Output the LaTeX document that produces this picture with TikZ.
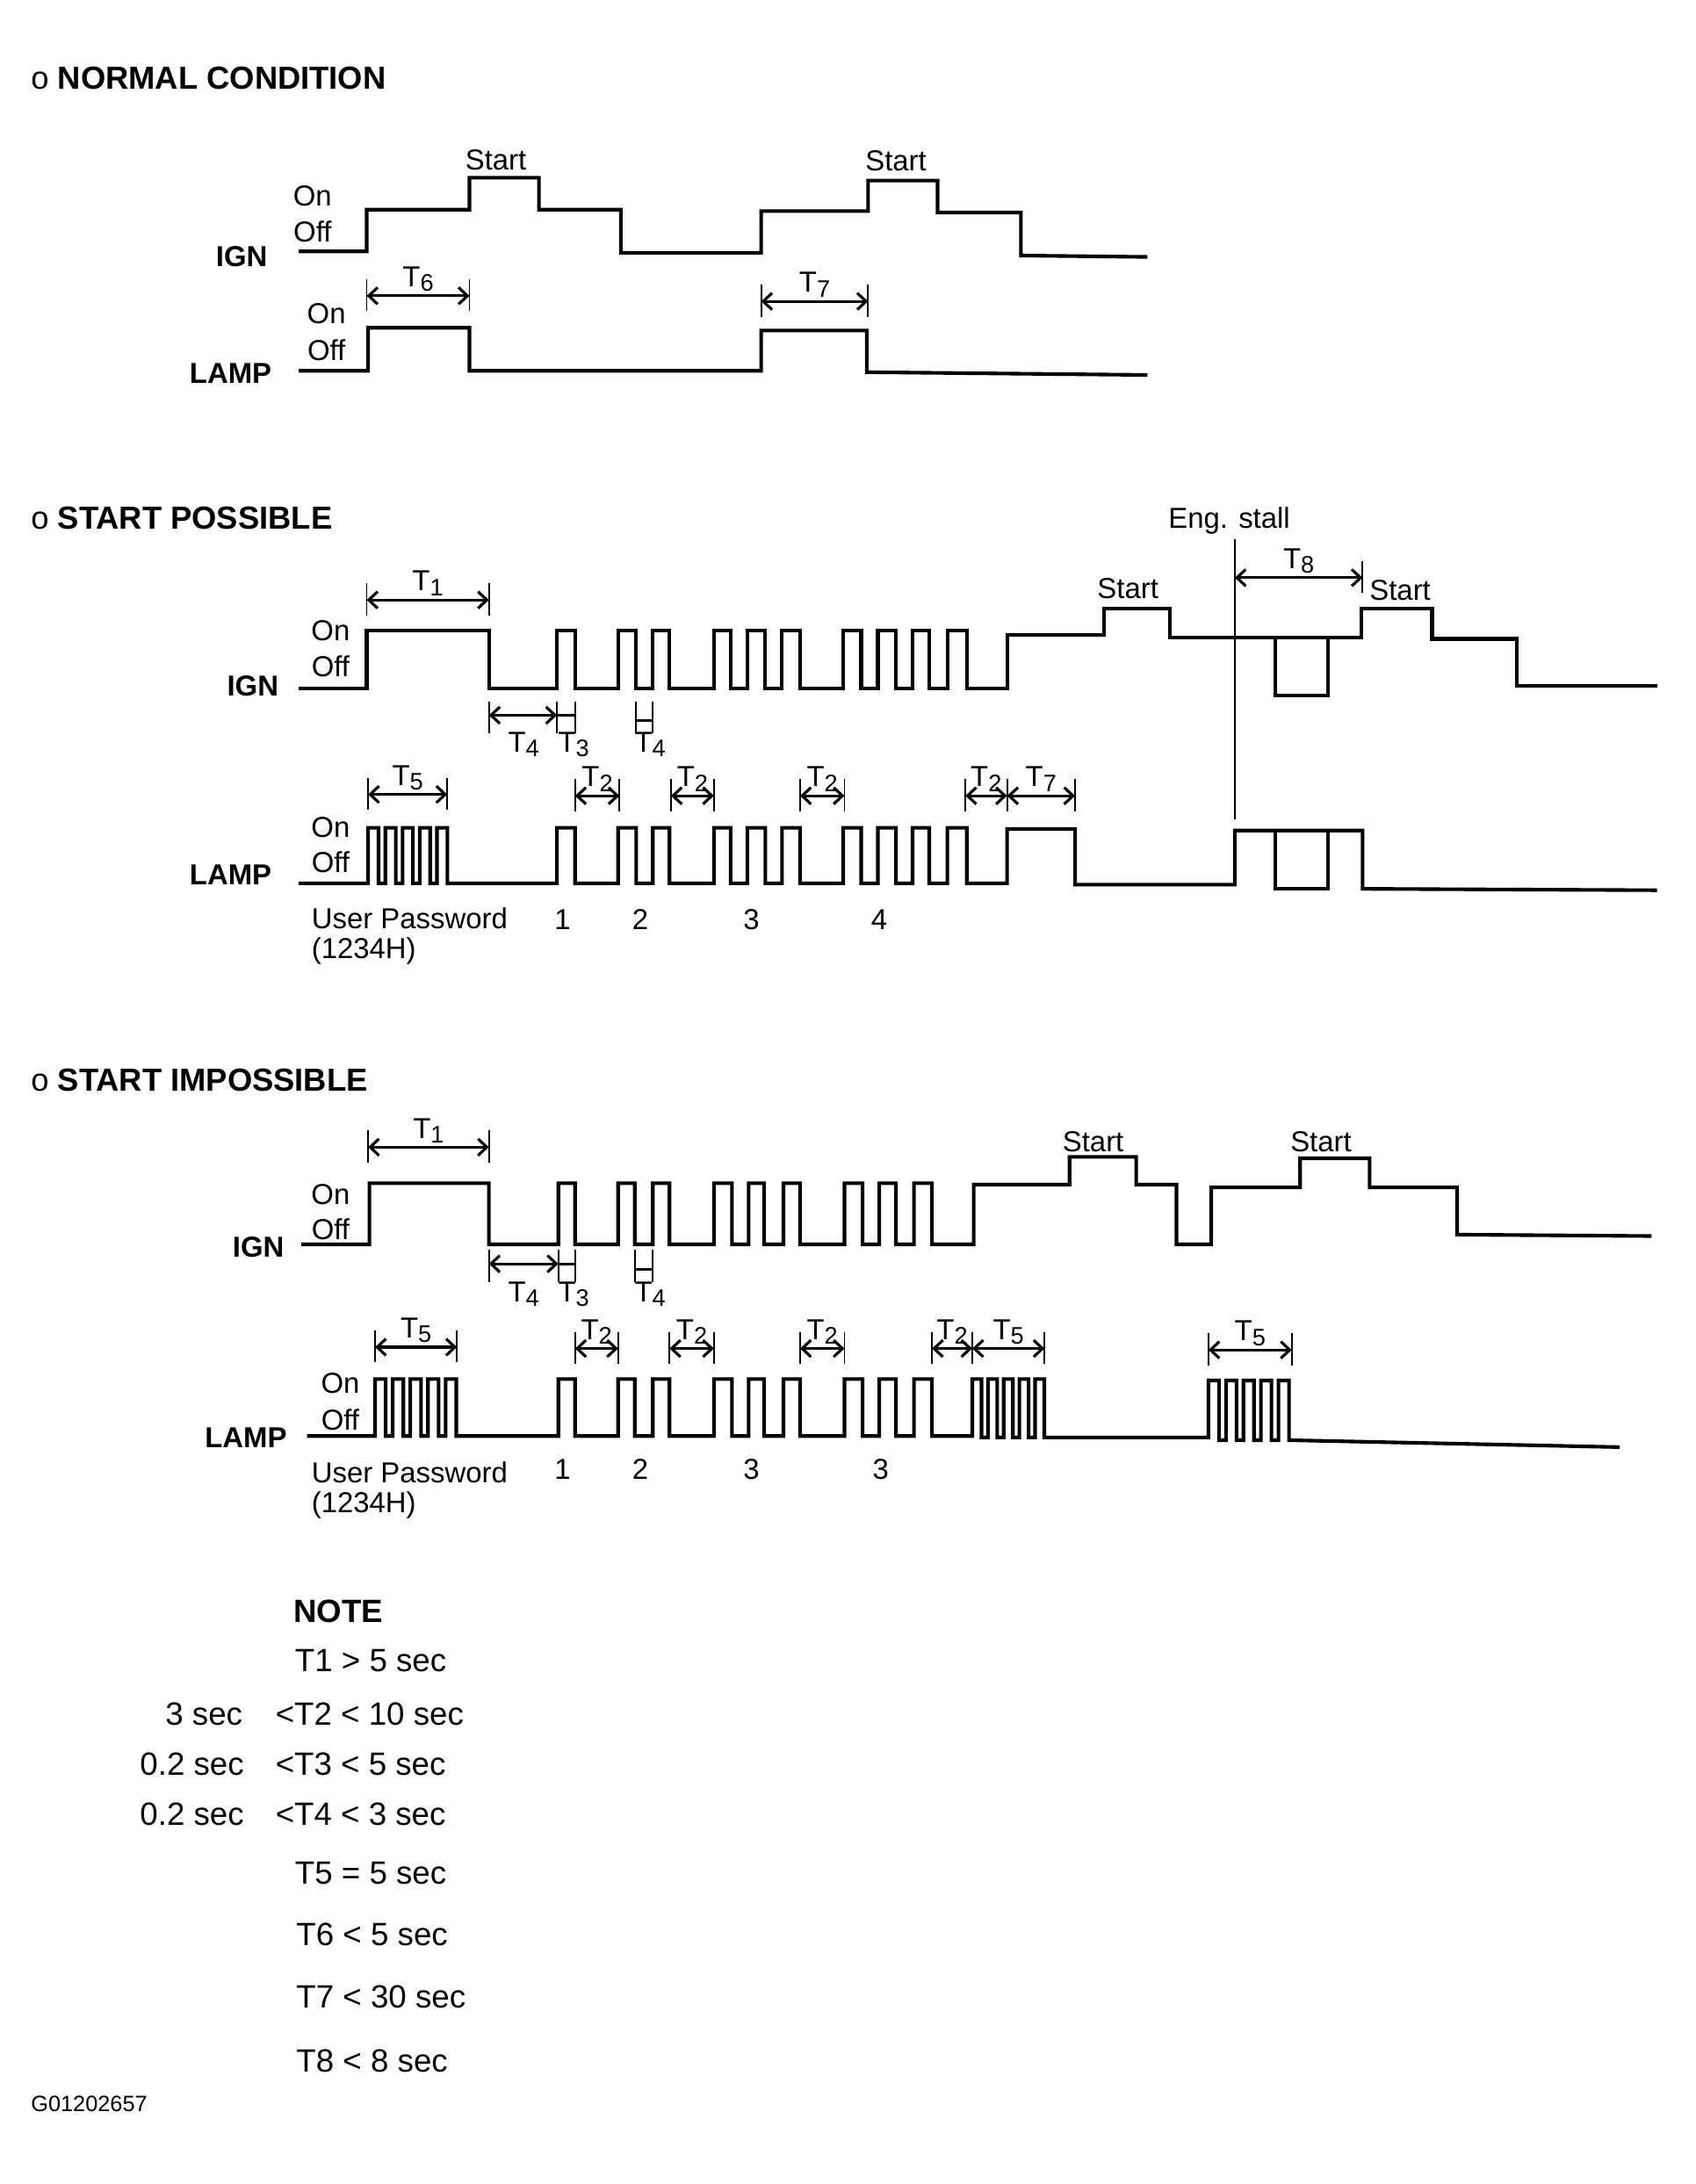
\documentclass[tikz,border=0pt]{standalone}
\usepackage{fontspec}
\setmainfont{Liberation Sans}
\usetikzlibrary{arrows.meta}
\newcommand\Tn[1]{T\raisebox{-0.3ex}{\fontsize{8.6}{9}\selectfont#1}}

\begin{document}
\begin{tikzpicture}[x=0.5pt,y=-0.5pt,
  wave/.style={line width=1.3pt},
  dim/.style={line width=1pt,{Straight Barb[length=3.2pt,width=6pt]}-{Straight Barb[length=3.2pt,width=6pt]}},
  tick/.style={line width=0.6pt},
  lbl/.style={inner sep=0pt,font=\fontsize{10.4}{12}\selectfont},
  sig/.style={inner sep=0pt,font=\fontsize{10.4}{12}\selectfont\bfseries},
  head/.style={inner sep=0pt,anchor=west,font=\fontsize{11.5}{13}\selectfont},
  note/.style={inner sep=0pt,font=\fontsize{11.6}{14}\selectfont}]
\useasboundingbox (0,0) rectangle (1221,1572.6);

\node [head] (ncHead) at (22,56) {o \textbf{NORMAL CONDITION}};
\node [head] (spHead) at (22,373) {o \textbf{START POSSIBLE}};
\node [head] (siHead) at (22,778) {o \textbf{START IMPOSSIBLE}};

\foreach \a/\b/\y/\t [count=\k] in {264/338/213/6, 548/625/217/7,
  264/352/432/1, 889/981/416/8, 265/322/572/5, 414/446/573/2, 483/514/573/2,
  576/608/573/2, 695/725/573/2, 725/774/573/7, 265/352/826/1, 270/329/970/5,
  414/445/971/2, 482/514/971/2, 576/608/971/2, 671/700/971/2, 700/752/971/5,
  870/930/972/5} {
  \draw [tick] (\a,\y-12) -- (\a,\y+11) (\b,\y-12) -- (\b,\y+11);
  \draw [dim] (\a,\y) -- (\b,\y);
  \node [lbl] (dimT\k) at ({(\a+\b)/2},\y-12) {\Tn{\t}};
}

% normal condition
\node [lbl] (ncStartA) at (357,115) {Start};
\node [lbl] (ncStartB) at (645,116) {Start};
\node [lbl] (ncIgnOn) at (225,141) {On};
\node [lbl] (ncIgnOff) at (225,167) {Off};
\node [sig] (ncIgn) at (174,185) {IGN};
\draw [wave] (215,181) -| (264,151) -| (338,128) -| (388,151) -| (447,182)
  -| (548,152) -| (625,130) -| (675,153) -| (735,184) -- (826,185);
\node [lbl] (ncLampOn) at (235,226) {On};
\node [lbl] (ncLampOff) at (235,252) {Off};
\node [sig] (ncLamp) at (166,269) {LAMP};
\draw [wave] (215,267) -| (265,236) -| (338,267) -| (548,238) -| (624,268) -- (826,270);

% start possible
\node [lbl] (spStall) at (885,375) {Eng. stall};
\draw [tick] (889,388) -- (889,590);
\node [lbl] (spStartA) at (812,424) {Start};
\node [lbl] (spStartB) at (1008,425) {Start};
\node [lbl] (spIgnOn) at (238,454) {On};
\node [lbl] (spIgnOff) at (238,480) {Off};
\node [sig] (spIgn) at (182,494) {IGN};
\draw [wave] (215,496) -| (264,454) -| (352,496)
  \foreach \r/\f in {401/414,445/458,470/482,514/526,538/551,563/576,607/620,632/645,657/669,682/696} { -| (\r,454) -| (\f,496) }
  -| (725,457) -| (795,438) -| (842,459) -| (980,438) -| (1031,460) -| (1092,494) -- (1193,494);
\draw [wave] (918,459) |- (956,501) -- (956,459);
\draw [tick] (352,505) -- (352,528) (401,505) -- (401,528) (414,505) -- (414,528)
  (458,505) -- (458,528) (470,505) -- (470,528);
\draw [dim] (352,515) -- (401,515);
\draw [line width=1pt] (401,515) -- (414,515) (458,519) -- (470,519);
\node [lbl] (spT4a) at (377,536) {\Tn{4}};
\node [lbl] (spT3) at (413,536) {\Tn{3}};
\node [lbl] (spT4b) at (468,536) {\Tn{4}};
\node [lbl] (spLampOn) at (238,596) {On};
\node [lbl] (spLampOff) at (238,621) {Off};
\node [sig] (spLamp) at (166,630) {LAMP};
\draw [wave] (215,636) \foreach \r in {265,277.4,289.8,302.2,314.6} { -| (\r,596) -| (\r+7.5,636) }
  \foreach \r/\f in {401/414,445/458,470/482,514/526,538/551,563/576,607/620,632/645,657/669,682/696} { -| (\r,596) -| (\f,636) }
  -| (725,597) -| (774,637) -| (889,598) -| (981,640) -- (1193,641);
\draw [wave] (918,598) |- (956,640) -- (956,598);
\node [lbl,anchor=west] (spUser) at (224,661) {User Password};
\node [lbl,anchor=west] (spCode) at (224,685) {(1234H)};
\node [lbl] (spD1) at (405,662) {1};
\node [lbl] (spD2) at (461,662) {2};
\node [lbl] (spD3) at (541,662) {3};
\node [lbl] (spD4) at (633,662) {4};

% start impossible
\node [lbl] (siStartA) at (787,822) {Start};
\node [lbl] (siStartB) at (951,822) {Start};
\node [lbl] (siIgnOn) at (238,860) {On};
\node [lbl] (siIgnOff) at (238,885) {Off};
\node [sig] (siIgn) at (186,898) {IGN};
\draw [wave] (217,896) -| (266,852) -| (352,896)
  \foreach \r/\f in {402/414,445/457,470/482,514/527,539/550,564/576,608/621,633/645,658/671} { -| (\r,852) -| (\f,896) }
  -| (701,853) -| (770,833) -| (818,853) -| (847,896) -| (872,855) -| (936,834) -| (986,855)
  -| (1049,889) -- (1189,890);
\draw [tick] (352,900) -- (352,923) (402,900) -- (402,923) (414,900) -- (414,923)
  (457,900) -- (457,923) (470,900) -- (470,923);
\draw [dim] (352,910) -- (402,910);
\draw [line width=1pt] (402,910) -- (414,910) (457,914) -- (470,914);
\node [lbl] (siT4a) at (377,932) {\Tn{4}};
\node [lbl] (siT3) at (413,932) {\Tn{3}};
\node [lbl] (siT4b) at (468,932) {\Tn{4}};
\node [lbl] (siLampOn) at (245,996) {On};
\node [lbl] (siLampOff) at (245,1022) {Off};
\node [sig] (siLamp) at (177,1035) {LAMP};
\draw [wave] (221,1034) \foreach \r in {270,282.7,295.4,308.1,320.8} { -| (\r,993) -| (\r+7.7,1034) }
  \foreach \r/\f in {402/414,445/457,470/482,514/527,539/550,564/576,608/621,633/645,658/671} { -| (\r,993) -| (\f,1034) }
  \foreach \r in {700,711.3,722.6,733.9,745.2} { -| (\r,993) -| (\r+6.6,1035) }
  \foreach \r in {870,882.6,895.2,907.8,920.4} { -| (\r,994) -| (\r+7.6,1037) }
  -- (1166,1042);
\node [lbl,anchor=west] (siUser) at (224,1060) {User Password};
\node [lbl,anchor=west] (siCode) at (224,1084) {(1234H)};
\node [lbl] (siD1) at (405,1058) {1};
\node [lbl] (siD2) at (461,1058) {2};
\node [lbl] (siD3) at (541,1058) {3};
\node [lbl] (siD4) at (634,1058) {3};

% note
\node [note,anchor=west,font=\fontsize{11.6}{14}\selectfont\bfseries] (noteHead) at (211,1160) {NOTE};
\node [note,anchor=west] (noteT1) at (212,1196) {T1 > 5 sec};
\node [note,anchor=east] (noteL2) at (175,1234) {3 sec};
\node [note,anchor=west] (noteT2) at (198,1234) {<T2 < 10 sec};
\node [note,anchor=east] (noteL3) at (176,1270) {0.2 sec};
\node [note,anchor=west] (noteT3) at (198,1270) {<T3 < 5 sec};
\node [note,anchor=east] (noteL4) at (176,1306) {0.2 sec};
\node [note,anchor=west] (noteT4) at (198,1306) {<T4 < 3 sec};
\node [note,anchor=west] (noteT5) at (212,1349) {T5 = 5 sec};
\node [note,anchor=west] (noteT6) at (213,1393) {T6 < 5 sec};
\node [note,anchor=west] (noteT7) at (213,1438) {T7 < 30 sec};
\node [note,anchor=west] (noteT8) at (213,1484) {T8 < 8 sec};
\node [inner sep=0pt,anchor=west,font=\fontsize{8}{9}\selectfont] (figId) at (22,1515) {G01202657};
\end{tikzpicture}
\end{document}
